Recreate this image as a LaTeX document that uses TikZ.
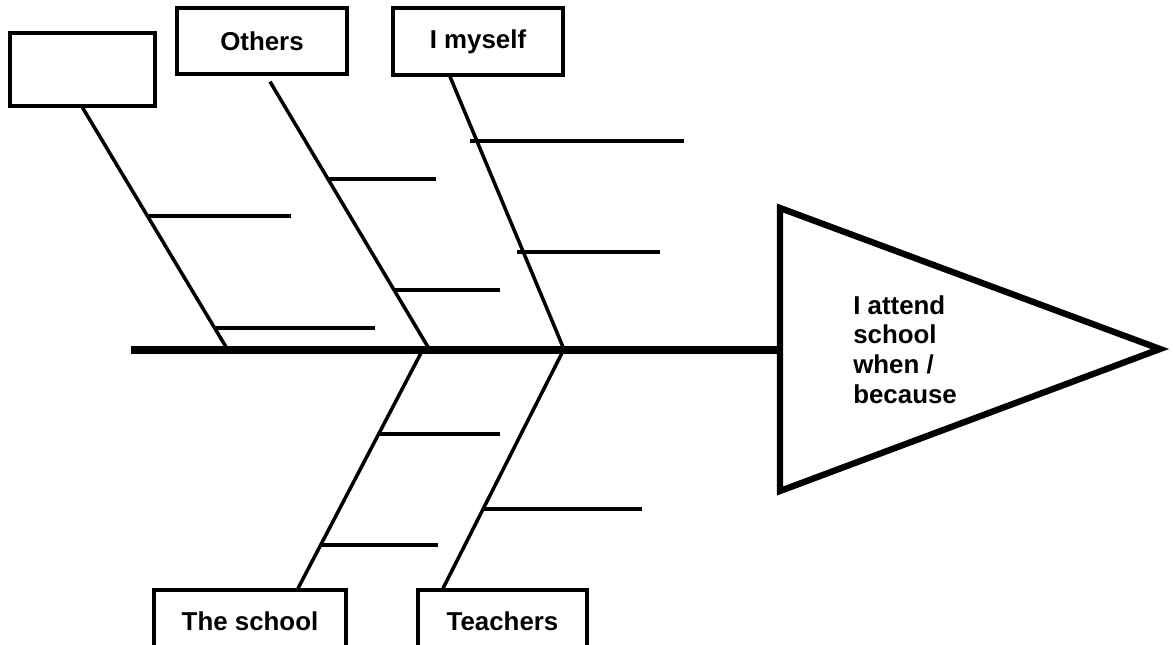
\documentclass[tikz,border=0pt]{standalone}
\usepackage{fontspec}
\setmainfont{Liberation Sans}
\usetikzlibrary{calc}
\begin{document}
\begin{tikzpicture}[x=0.025cm, y=-0.025cm,
  lbl/.style={font=\bfseries\fontsize{18.4}{21.3}\selectfont},
  cause/.style={lbl, draw, line width=2.3pt, inner sep=0},
  bone/.style={line width=2.5pt},
  twig/.style={line width=2.8pt},
  spine/.style={line width=5pt}]
\useasboundingbox (0,0) rectangle (1173,645);
% cause boxes
\node [cause, minimum width=3.625cm, minimum height=1.825cm] (blank) at (82.5, 69.5) {};
\node [cause, minimum width=4.25cm, minimum height=1.65cm] (others) at (262, 41) {Others};
\node [cause, minimum width=4.25cm, minimum height=1.675cm] (myself) at (478, 41.5) {I myself};
\node [cause, minimum width=4.8cm, minimum height=1.55cm] (school) at (250, 621) {The school};
\node [cause, minimum width=4.225cm, minimum height=1.55cm] (teachers) at (502.5, 621) {Teachers};
% spine and head
\coordinate (tail) at (131, 350);
\coordinate (head) at (780, 350);
\coordinate (s1) at (226, 347);
\coordinate (s2) at (428, 347);
\coordinate (s3) at (563, 347);
\coordinate (s4) at (421, 353);
\coordinate (s5) at (562, 353);
\draw [spine] (tail) -- (head);
\coordinate (top) at (780, 208);
\coordinate (tip) at (1160, 349);
\coordinate (bottom) at (780, 491);
\draw [line width=4.5pt] (top) -- (tip) -- (bottom) -- cycle;
\node [lbl, anchor=north west, inner sep=0, align=left] (effect) at (853, 295) {I attend\\school\\when /\\because};
% bones
\draw [bone] (blank.south) -- coordinate[pos=0.454] (b1) coordinate[pos=0.92] (b2) (s1);
\draw [bone] ($(others.south)+(8,6)$) -- coordinate[pos=0.366] (b3) coordinate[pos=0.785] (b4) (s2);
\draw [bone] ($(myself.south)+(-28,0)$) -- coordinate[pos=0.239] (b5) coordinate[pos=0.647] (b6) (s3);
\draw [bone] (s4) -- coordinate[pos=0.346] (b7) coordinate[pos=0.814] (b8) ($(school.north)+(48,0)$);
\draw [bone] (s5) -- coordinate[pos=0.661] (b9) ($(teachers.north)+(-59.5,0)$);
% twigs
\draw [twig] (b1) -- +(143, 0);
\draw [twig] (b2) -- +(160, 0);
\draw [twig] (b3) -- +(108, 0);
\draw [twig] (b4) -- +(106, 0);
\draw [twig] ($(b5)+(-7,0)$) -- +(214, 0);
\draw [twig] ($(b6)+(-6,0)$) -- +(143, 0);
\draw [twig] (b7) -- +(122, 0);
\draw [twig] (b8) -- +(117, 0);
\draw [twig] (b9) -- +(159, 0);
\end{tikzpicture}
\end{document}
